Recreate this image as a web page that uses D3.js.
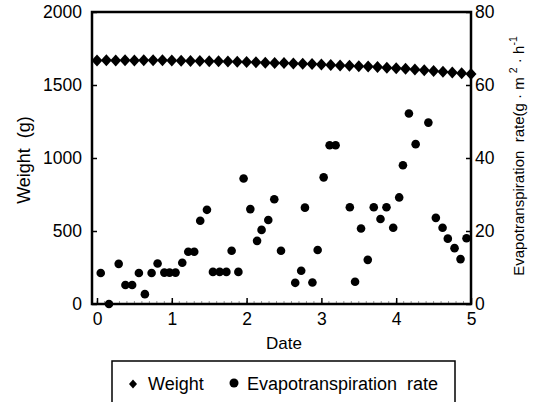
<!DOCTYPE html>
<html><head><meta charset="utf-8">
<script src="https://cdn.jsdelivr.net/npm/d3@7"></script>
<style>
body{margin:0;background:#fff;}
svg text{font-family:"Liberation Sans",Arial,sans-serif;fill:#000;}
</style></head>
<body><svg id="c" width="539" height="402"></svg>
<script>
// ---- data ----
const weightDates = [0,0.125,0.25,0.375,0.5,0.625,0.75,0.875,1,1.125,1.25,1.375,1.5,1.625,1.75,1.875,2,2.125,2.25,2.375,2.5,2.625,2.75,2.875,3,3.125,3.25,3.375,3.5,3.625,3.75,3.875,4,4.125,4.25,4.375,4.5,4.625,4.75,4.875,5];
const weightValues = [1668,1669,1668,1669,1668,1669,1670,1669,1667,1666,1665,1664,1663,1662,1661,1659,1657,1655,1653,1651,1650,1648,1646,1643,1640,1637,1634,1632,1629,1626,1623,1619,1615,1611,1606,1601,1596,1591,1586,1580,1575];
const etDates = [0.05,0.16,0.29,0.38,0.47,0.56,0.64,0.73,0.81,0.90,0.97,1.05,1.14,1.22,1.30,1.38,1.47,1.55,1.64,1.73,1.80,1.89,1.96,2.05,2.14,2.20,2.29,2.37,2.46,2.65,2.73,2.78,2.88,2.95,3.03,3.11,3.19,3.38,3.45,3.53,3.62,3.70,3.79,3.87,3.96,4.04,4.09,4.17,4.26,4.43,4.53,4.62,4.69,4.78,4.86,4.94];
const etValues = [8.5,0,11.0,5.2,5.2,8.5,2.7,8.5,11.1,8.6,8.6,8.6,11.3,14.3,14.3,22.8,25.8,8.8,8.8,8.8,14.6,8.8,34.4,26.0,17.3,20.3,23.0,28.7,14.6,5.8,9.1,26.4,5.9,14.8,34.7,43.5,43.5,26.5,6.1,20.7,12.1,26.5,23.3,26.5,20.9,29.2,38.0,52.2,43.8,49.7,23.6,20.9,17.9,15.3,12.3,18.0];
const xTicks = [0,1,2,3,4,5];
const leftTicks = [0,500,1000,1500,2000];
const rightTicks = [0,20,40,60,80];
const legendLabels = ["Weight","Evapotranspiration  rate"];

// ---- layout ----
const svg = d3.select("#c");
const frame = {l:92, r:471, t:12, b:304};
const x = d3.scaleLinear().domain([0,5]).range([97,471]);
const yL = d3.scaleLinear().domain([0,2000]).range([frame.b, frame.t]);
const yR = d3.scaleLinear().domain([0,80]).range([frame.b, frame.t]);

const diamond = "M0,-6L5.5,0L0,6L-5.5,0Z";

// minor ticks on x axis
const minor = d3.range(0, 5.001, 0.1);
svg.append("g").selectAll("line").data(minor).join("line")
  .attr("x1", d=>x(d)).attr("x2", d=>x(d))
  .attr("y1", frame.b).attr("y2", frame.b-3)
  .attr("stroke","#999").attr("stroke-width",1);

// axes
const fs = "17.5px";
const gx = svg.append("g").attr("transform",`translate(0,${frame.b})`)
  .call(d3.axisBottom(x).tickValues(xTicks).tickFormat(d3.format("d")).tickSizeInner(-6).tickSizeOuter(0).tickPadding(9));
const gl = svg.append("g").attr("transform",`translate(${frame.l},0)`)
  .call(d3.axisLeft(yL).tickValues(leftTicks).tickFormat(d3.format("d")).tickSizeInner(-5).tickSizeOuter(0).tickPadding(10));
const gr = svg.append("g").attr("transform",`translate(${frame.r},0)`)
  .call(d3.axisRight(yR).tickValues(rightTicks).tickFormat(d3.format("d")).tickSizeInner(-5).tickSizeOuter(0).tickPadding(4));
[gx,gl,gr].forEach(g=>{
  g.select(".domain").remove();
  g.selectAll(".tick line").attr("stroke","#000").attr("stroke-width",1.5);
  g.selectAll(".tick text").style("font-size",fs).attr("fill","#000");
});

// frame
svg.append("rect").attr("x",frame.l).attr("y",frame.t)
  .attr("width",frame.r-frame.l).attr("height",frame.b-frame.t)
  .attr("fill","none").attr("stroke","#000").attr("stroke-width",2.5);

// weight series
svg.append("g").selectAll("path").data(weightDates).join("path")
  .attr("d",diamond)
  .attr("transform",(d,i)=>`translate(${x(d)},${yL(weightValues[i])})`)
  .attr("fill","#000");

// ET series
svg.append("g").selectAll("circle").data(etDates).join("circle")
  .attr("cx",d=>x(d)).attr("cy",(d,i)=>yR(etValues[i]))
  .attr("r",4.3).attr("fill","#000");

// axis titles
svg.append("text").attr("x",284).attr("y",349).attr("text-anchor","middle")
  .style("font-size","17px").text("Date");
svg.append("text").attr("transform","translate(30,160) rotate(-90)")
  .attr("text-anchor","middle").style("font-size","18px").style("white-space","pre")
  .text("Weight  (g)");
const rt = svg.append("text").attr("transform","translate(524,156) rotate(-90)")
  .attr("text-anchor","middle").style("font-size","15px").style("white-space","pre");
rt.append("tspan").text("Evapotranspiration  rate(g · m ");
rt.append("tspan").attr("dy",-7).style("font-size","10.5px").text("2");
rt.append("tspan").attr("dy",7).text(" · h");
rt.append("tspan").attr("dy",-7).style("font-size","10.5px").text("-1");

// legend
svg.append("rect").attr("x",112).attr("y",361).attr("width",343).attr("height",44)
  .attr("fill","none").attr("stroke","#000").attr("stroke-width",1.5);
svg.append("path").attr("d","M0,-4.5L4,0L0,4.5L-4,0Z").attr("transform","translate(133,384)");
svg.append("text").attr("x",148).attr("y",390).style("font-size","18px").text(legendLabels[0]);
svg.append("circle").attr("cx",234).attr("cy",383).attr("r",4.5);
svg.append("text").attr("x",247).attr("y",390).style("font-size","18px").style("white-space","pre").text(legendLabels[1]);
</script></body></html>
